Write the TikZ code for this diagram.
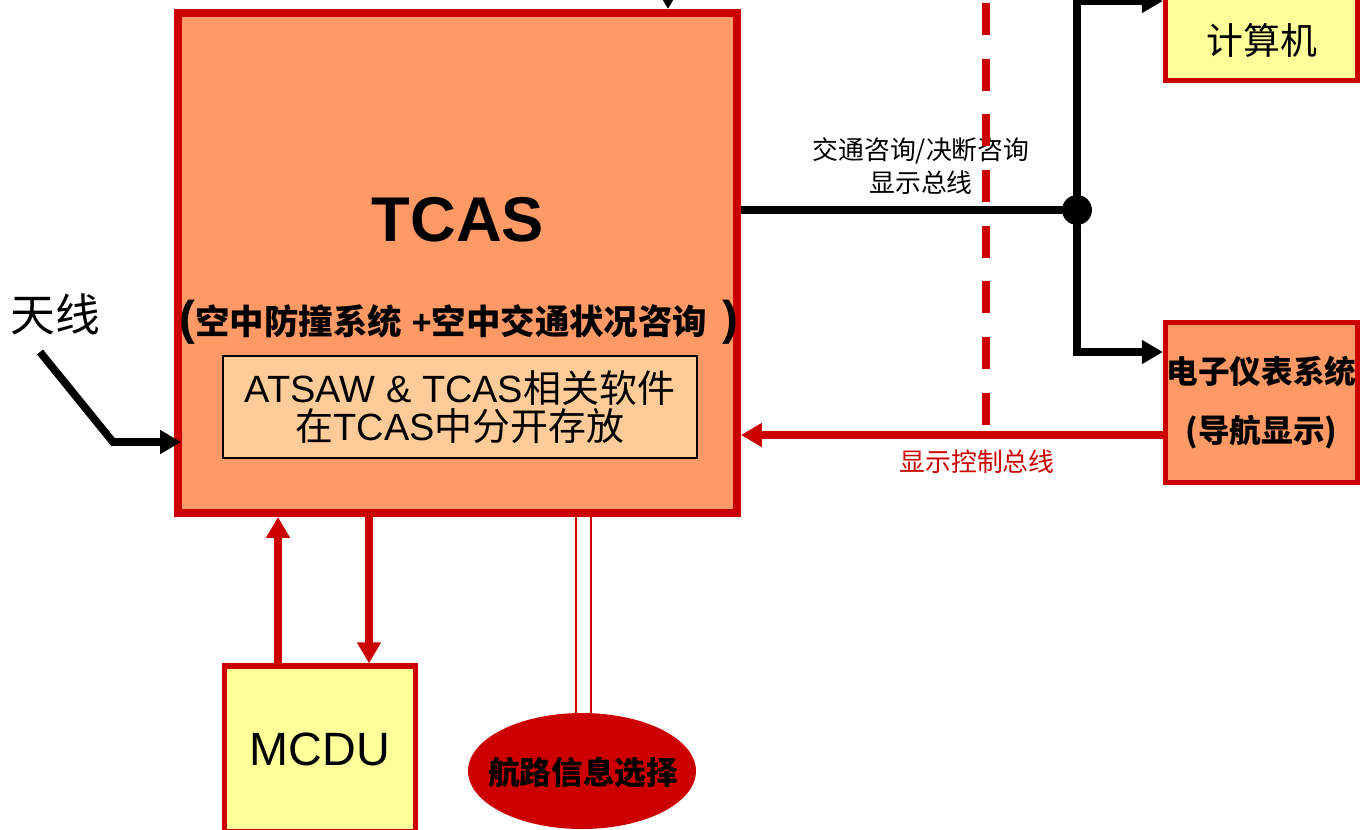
\documentclass[tikz,border=0pt]{standalone}
\usepackage{fontspec}
\setmainfont{Liberation Sans}
\newfontfamily\cjk{Noto Sans CJK SC}
\usetikzlibrary{shapes.geometric,arrows.meta,calc}
\definecolor{tred}{HTML}{CC0000}
\definecolor{salmon}{HTML}{FF9966}
\definecolor{lyellow}{HTML}{FFFF99}
\definecolor{peach}{HTML}{FFCC99}

\begin{document}
\begin{tikzpicture}[x=0.02cm, y=-0.02cm,
	bigbox/.style={draw=tred, line width=4.5pt, fill=salmon, inner sep=0pt},
	ybox/.style={draw=tred, line width=3pt, fill=lyellow, inner sep=0pt},
	bus/.style={line width=4.4pt, -{Triangle[length=12pt,width=13pt]}},
	redbus/.style={bus, draw=tred, fill=tred}]
	\useasboundingbox (0,0) rectangle (1361,829);
	
	% TCAS box
	\node[bigbox, minimum width=11.18cm, minimum height=10cm] (tcas) at (457.5,263) {};
	\node[font=\fontsize{36pt}{36pt}\selectfont\bfseries] (title) at (458,220) {TCAS};
	\node[font=\fontsize{19.6pt}{21pt}\selectfont\bfseries] (sub) at (459,322)
	{{\fontsize{27pt}{27pt}\selectfont(}{\cjk 空中防撞系统} +{\cjk 空中交通状况咨询}\ \,{\fontsize{27pt}{27pt}\selectfont)}};
	\node[draw=black, line width=0.8pt, fill=peach, minimum width=9.48cm, minimum height=2.04cm,
	align=center, font=\fontsize{21.6pt}{22pt}\selectfont] (soft) at (460,407)
	{ATSAW \& TCAS{\cjk 相关软件}\\{\cjk 在}TCAS{\cjk 中分开存放}};
	
	% antenna
	\coordinate (ant) at (40,352);
	\coordinate (antb) at (113,442);
	\node[font=\cjk\fontsize{25.5pt}{26pt}\selectfont] (antlabel) at (55,314) {天线};
	\draw[bus] (ant) -- (antb) -- ($(tcas.west |- antb)+(7,0)$);
	
	% input from above
	\coordinate (in) at (668,-40);
	\draw[bus] (in) -- (tcas.north -| in);
	
	% right hand boxes
	\node[ybox, minimum width=3.84cm, minimum height=1.86cm] (pc) at (1261.5,34) {};
	\node[font=\cjk\fontsize{21pt}{21pt}\selectfont] (pctext) at (1262,40) {计算机};
	\node[bigbox, line width=3pt, minimum width=3.84cm, minimum height=3.2cm, align=center,
	font=\cjk\bfseries\fontsize{18pt}{34pt}\selectfont] (ins) at (1261.5,402.5) {电子仪表系统\\(导航显示)};
	
	% display bus
	\coordinate (dot) at (1077,210);
	\coordinate (top) at (1077,1);
	\coordinate (mid) at (1077,352);
	\draw[line width=4.4pt] (tcas.east |- dot) -- (dot);
	\fill (dot) circle (8.5pt);
	\draw[bus] (dot) |- (pc.west |- top);
	\draw[bus] (dot) |- (ins.west |- mid);
	\node[align=center, font=\cjk\fontsize{14.7pt}{18.7pt}\selectfont] (buslabel) at (921,166)
	{交通咨询/决断咨询\\显示总线};
	
	% boundary (dashed)
	\coordinate (bt) at (986,3);
	\coordinate (cb) at (986,435);
	\draw[tred, line width=4.5pt, dash pattern=on 18.1pt off 13.6pt] (bt) -- (cb);
	
	% display control bus
	\draw[redbus] (ins.west |- cb) -- (tcas.east |- cb);
	\node[text=tred, font=\cjk\fontsize{14.7pt}{15pt}\selectfont] (cblabel) at (977,462) {显示控制总线};
	
	% MCDU
	\node[ybox, minimum width=3.82cm, minimum height=3.32cm, font=\fontsize{26.6pt}{27pt}\selectfont] (mcdu) at (320,749) {MCDU};
	\coordinate (up) at (278,0);
	\coordinate (dn) at (369,0);
	\draw[redbus] (mcdu.north -| up) -- (tcas.south -| up);
	\draw[redbus] (tcas.south -| dn) -- (mcdu.north -| dn);
	
	% route selection
	\node[ellipse, fill=tred, inner sep=0pt, minimum width=4.56cm, minimum height=2.32cm] (route) at (582,771) {};
	\node[font=\cjk\bfseries\fontsize{18pt}{18pt}\selectfont] (routetext) at (583,773) {航路信息选择};
	\coordinate (l1) at (576,0);
	\coordinate (l2) at (591,0);
	\draw[tred, line width=1.2pt] (tcas.south -| l1) -- (route.north -| l1);
	\draw[tred, line width=1.2pt] (tcas.south -| l2) -- (route.north -| l2);
\end{tikzpicture}
\end{document}
